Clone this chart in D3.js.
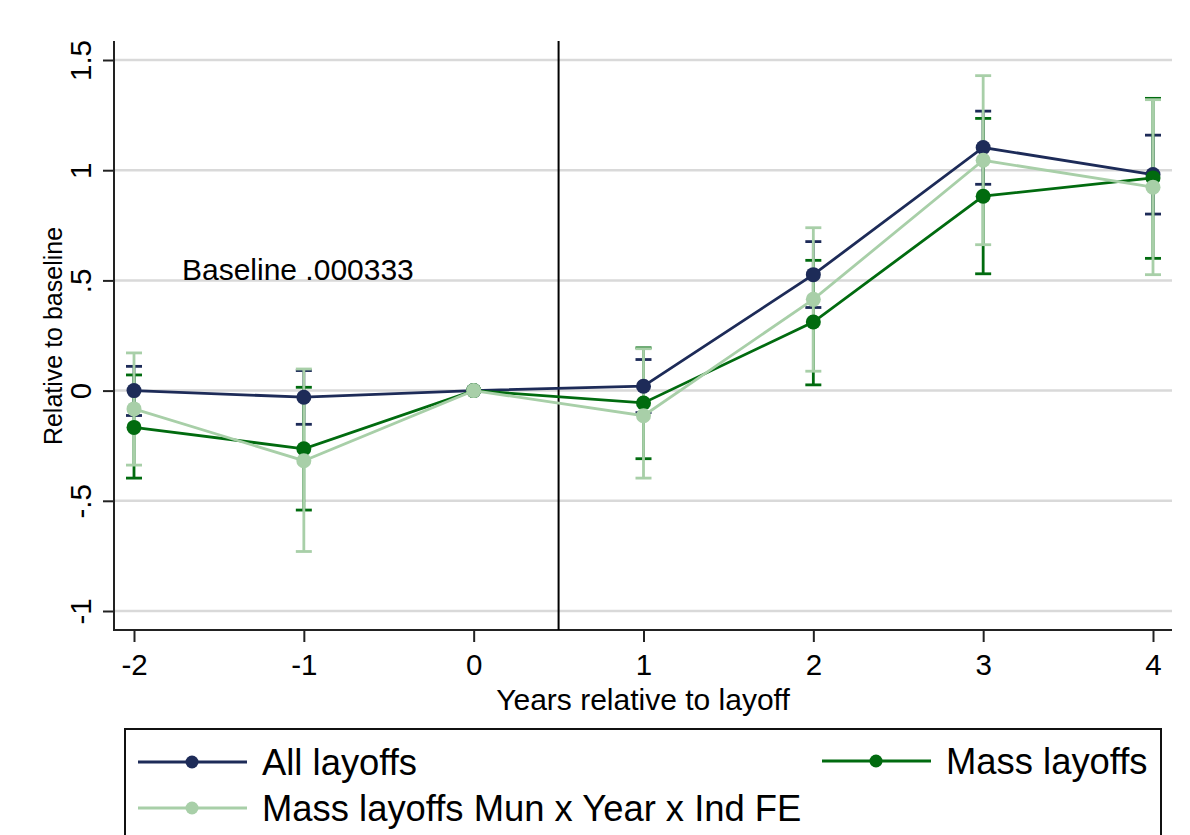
<!DOCTYPE html>
<html>
<head>
<meta charset="utf-8">
<script src="https://cdn.jsdelivr.net/npm/d3@7"></script>
<style>
  body { margin: 0; background: #fff; }
  text { font-family: "Liberation Sans", Arial, sans-serif; fill: #000; }
</style>
</head>
<body>
<script>
// years relative to layoff (0 is the reference year)
let years = [-2, -1, 0, 1, 2, 3, 4];

// All layoffs
let allEst = [0.0, -0.03, 0, 0.02, 0.526, 1.103, 0.98];
let allLo = [-0.113, -0.153, null, -0.10, 0.377, 0.936, 0.801];
let allHi = [0.11, 0.091, null, 0.141, 0.676, 1.268, 1.159];

// Mass layoffs
let massEst = [-0.167, -0.264, 0, -0.056, 0.311, 0.882, 0.965];
let massLo = [-0.397, -0.542, null, -0.309, 0.026, 0.53, 0.60];
let massHi = [0.071, 0.015, null, 0.194, 0.591, 1.235, 1.326];

// Mass layoffs Mun x Year x Ind FE
let feEst = [-0.083, -0.318, 0, -0.114, 0.414, 1.045, 0.923];
let feLo = [-0.338, -0.73, null, -0.397, 0.088, 0.662, 0.526];
let feHi = [0.171, 0.098, null, 0.19, 0.739, 1.429, 1.32];

let seriesNames = ['All layoffs', 'Mass layoffs', 'Mass layoffs Mun x Year x Ind FE'];
let seriesColors = ['#1d2b58', '#016b0f', '#a8cfa8'];

let yTicks = [-1, -0.5, 0, 0.5, 1, 1.5];
let yTickLabels = ['-1', '-.5', '0', '.5', '1', '1.5'];
let xTicks = [-2, -1, 0, 1, 2, 3, 4];
let xTickLabels = ['-2', '-1', '0', '1', '2', '3', '4'];

let eventLine = 0.5;
let baselineNote = 'Baseline .000333';
let notePos = [-1.035, 0.55];

let series = [
  {name: seriesNames[0], color: seriesColors[0], est: allEst, lo: allLo, hi: allHi},
  {name: seriesNames[1], color: seriesColors[1], est: massEst, lo: massLo, hi: massHi},
  {name: seriesNames[2], color: seriesColors[2], est: feEst, lo: feLo, hi: feHi},
].map(s => Object.assign(s, {
  pts: years.map((t, i) => ({t: t, v: s.est[i], lo: s.lo[i], hi: s.hi[i]}))
}));

let W = 1190, H = 835;
let plot = {left: 114, right: 1172, top: 41, bottom: 630};

let svg = d3.select('body').append('svg')
  .attr('width', W)
  .attr('height', H);

let x = d3.scaleLinear().domain([-2, 4]).range([134, 1153]);
let y = d3.scaleLinear().domain([-1, 1.5]).range([611, 60]);

// gridlines
svg.append('g')
  .selectAll('line')
  .data(yTicks)
  .join('line')
  .attr('x1', plot.left).attr('x2', plot.right)
  .attr('y1', d => y(d)).attr('y2', d => y(d))
  .attr('stroke', '#d9d9d9')
  .attr('stroke-width', 2.5);

// y axis
let yAxis = svg.append('g')
  .attr('transform', 'translate(' + plot.left + ',0)')
  .call(d3.axisLeft(y).tickValues(yTicks).tickSize(11).tickFormat((d, i) => yTickLabels[i]));
yAxis.select('.domain').remove();
yAxis.selectAll('.tick line').attr('stroke', '#222').attr('stroke-width', 2);
yAxis.selectAll('.tick text')
  .attr('x', null).attr('dy', null)
  .attr('text-anchor', 'middle')
  .attr('transform', 'translate(-23,0) rotate(-90)')
  .style('font-size', '29.5px')
  .style('font-family', '"Liberation Sans", Arial, sans-serif')
  .attr('fill', '#000');
svg.append('line')
  .attr('x1', plot.left).attr('x2', plot.left)
  .attr('y1', plot.top).attr('y2', plot.bottom + 1)
  .attr('stroke', '#222').attr('stroke-width', 2);

// x axis
let xAxis = svg.append('g')
  .attr('transform', 'translate(0,' + plot.bottom + ')')
  .call(d3.axisBottom(x).tickValues(xTicks).tickSize(12).tickFormat((d, i) => xTickLabels[i]));
xAxis.select('.domain').remove();
xAxis.selectAll('.tick line').attr('stroke', '#222').attr('stroke-width', 2);
xAxis.selectAll('.tick text')
  .attr('y', 45).attr('dy', null)
  .style('font-size', '29.5px')
  .style('font-family', '"Liberation Sans", Arial, sans-serif')
  .attr('fill', '#000');
svg.append('line')
  .attr('x1', plot.left).attr('x2', plot.right)
  .attr('y1', plot.bottom).attr('y2', plot.bottom)
  .attr('stroke', '#222').attr('stroke-width', 2);

// axis titles
svg.append('text')
  .attr('x', (plot.left + plot.right) / 2)
  .attr('y', 710)
  .attr('text-anchor', 'middle')
  .style('font-size', '30px')
  .text('Years relative to layoff');

svg.append('text')
  .attr('transform', 'translate(62,336) rotate(-90)')
  .attr('text-anchor', 'middle')
  .style('font-size', '25px')
  .text('Relative to baseline');

// event line
svg.append('line')
  .attr('x1', x(eventLine)).attr('x2', x(eventLine))
  .attr('y1', plot.top).attr('y2', plot.bottom)
  .attr('stroke', '#000').attr('stroke-width', 2);

// annotation
svg.append('text')
  .attr('x', x(notePos[0]))
  .attr('y', y(notePos[1]))
  .attr('dy', '0.36em')
  .attr('text-anchor', 'middle')
  .style('font-size', '30px')
  .text(baselineNote);

// confidence intervals
let capW = 8;
series.forEach(s => {
  let ci = svg.append('g')
    .attr('stroke', s.color)
    .attr('stroke-width', 2.8)
    .attr('fill', 'none');
  let pts = s.pts.filter(d => d.lo !== null);
  ci.selectAll('line.bar').data(pts).join('line')
    .attr('class', 'bar')
    .attr('x1', d => x(d.t)).attr('x2', d => x(d.t))
    .attr('y1', d => y(d.lo)).attr('y2', d => y(d.hi));
  ci.selectAll('line.lo').data(pts).join('line')
    .attr('class', 'lo')
    .attr('x1', d => x(d.t) - capW).attr('x2', d => x(d.t) + capW)
    .attr('y1', d => y(d.lo)).attr('y2', d => y(d.lo));
  ci.selectAll('line.hi').data(pts).join('line')
    .attr('class', 'hi')
    .attr('x1', d => x(d.t) - capW).attr('x2', d => x(d.t) + capW)
    .attr('y1', d => y(d.hi)).attr('y2', d => y(d.hi));
});

// connected estimates
let line = d3.line()
  .x(d => x(d.t))
  .y(d => y(d.v));

series.forEach(s => {
  let g = svg.append('g').attr('class', 'trace');
  g.append('path')
    .attr('d', line(s.pts))
    .attr('fill', 'none')
    .attr('stroke', s.color)
    .attr('stroke-width', 2.8);
  g.selectAll('circle').data(s.pts).join('circle')
    .attr('cx', d => x(d.t))
    .attr('cy', d => y(d.v))
    .attr('r', 7.5)
    .attr('fill', s.color);
});

// legend
let leg = svg.append('g');
leg.append('rect')
  .attr('x', 125).attr('y', 729)
  .attr('width', 1036).attr('height', 130)
  .attr('fill', '#fff')
  .attr('stroke', '#111').attr('stroke-width', 2);

let legPos = [
  {lx: 138, ty: 762, tx: 262},
  {lx: 822, ty: 761, tx: 946},
  {lx: 138, ty: 808, tx: 262},
];
series.forEach((s, i) => {
  let p = legPos[i];
  leg.append('line')
    .attr('x1', p.lx).attr('x2', p.lx + 109)
    .attr('y1', p.ty).attr('y2', p.ty)
    .attr('stroke', s.color).attr('stroke-width', 3);
  leg.append('circle')
    .attr('cx', p.lx + 54).attr('cy', p.ty)
    .attr('r', 6.5)
    .attr('fill', s.color);
  leg.append('text')
    .attr('x', p.tx).attr('y', p.ty)
    .attr('dy', '0.36em')
    .style('font-size', '36.4px')
    .text(s.name);
});
</script>
</body>
</html>
